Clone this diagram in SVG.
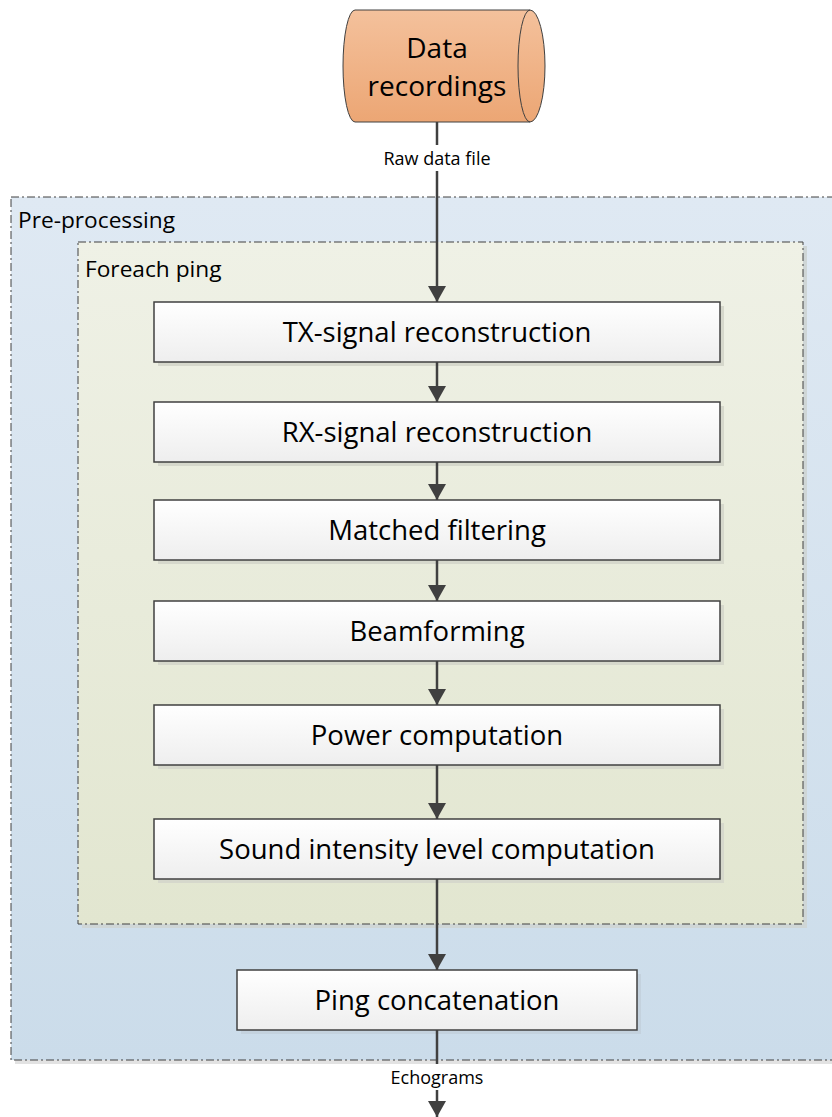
<svg xmlns="http://www.w3.org/2000/svg" width="832" height="1117" viewBox="0 0 832 1117">
<defs>
<linearGradient id="gOuter" x1="0" y1="0" x2="0" y2="1"><stop offset="0" stop-color="#dfe9f3"/><stop offset="1" stop-color="#cbdcea"/></linearGradient>
<linearGradient id="gInner" x1="0" y1="0" x2="0" y2="1"><stop offset="0" stop-color="#eff1e6"/><stop offset="1" stop-color="#e2e6d0"/></linearGradient>
<linearGradient id="gBox" x1="0" y1="0" x2="0" y2="1"><stop offset="0" stop-color="#ffffff"/><stop offset="1" stop-color="#eeeeee"/></linearGradient>
<linearGradient id="gCyl" x1="0" y1="0" x2="0" y2="1"><stop offset="0" stop-color="#f4c19c"/><stop offset="1" stop-color="#eca674"/></linearGradient>
<marker id="arr" markerWidth="16" markerHeight="18" refX="16" refY="9" orient="auto" markerUnits="userSpaceOnUse" viewBox="0 0 16 18">
<path d="M0,0 L16,9 L0,18 Z" fill="#404040"/>
</marker>
<style>
.cont{stroke:#404040;stroke-width:1;stroke-dasharray:8,3,2,3}
.box{fill:url(#gBox);stroke:#404040;stroke-width:1.5}
.shadow{fill:#d6d8cc}
.lbl{font-family:"Open Sans","Liberation Sans",sans-serif;fill:#000}
.btxt{font-size:27.5px;text-anchor:middle}
.edge{stroke:#404040;stroke-width:2.5;fill:none}
.elbl{font-size:18px;text-anchor:middle}
</style>
</defs>

<g id="preprocessing">
<rect x="15" y="201" width="830" height="863" fill="#e2e2e2"/>
<rect x="11" y="197" width="830" height="863" fill="url(#gOuter)" class="cont"/>
<text x="18" y="228" class="lbl" font-size="22.7">Pre-processing</text>
</g>
<g id="foreach">
<rect x="82" y="246" width="725" height="682" fill="#cfd6d6"/>
<rect x="78" y="242" width="725" height="682" fill="url(#gInner)" class="cont"/>
<text x="85" y="277" class="lbl" font-size="22.7">Foreach ping</text>
</g>

<g id="data-recordings">
<path d="M355,10 L530,10 A15,56 0 0 1 530,122 L355,122 A12,56 0 0 1 355,10 Z" fill="url(#gCyl)" stroke="#404040" stroke-width="1"/>
<path d="M530,10 A12,56 0 0 0 530,122" fill="none" stroke="#404040" stroke-width="1"/>
<text x="437" y="58" class="lbl" font-size="28" text-anchor="middle">Data</text>
<text x="437" y="96" class="lbl" font-size="28" text-anchor="middle">recordings</text>
</g>

<g id="tx">
<rect x="158" y="306" width="566" height="60" class="shadow"/>
<rect x="154" y="302" width="566" height="60" class="box"/>
<text x="437" y="342" class="lbl btxt">TX-signal reconstruction</text>
</g>
<g id="rx">
<rect x="158" y="406" width="566" height="60" class="shadow"/>
<rect x="154" y="402" width="566" height="60" class="box"/>
<text x="437" y="442" class="lbl btxt">RX-signal reconstruction</text>
</g>
<g id="matched">
<rect x="158" y="504" width="566" height="60" class="shadow"/>
<rect x="154" y="500" width="566" height="60" class="box"/>
<text x="437" y="540" class="lbl btxt">Matched filtering</text>
</g>
<g id="beamforming">
<rect x="158" y="605" width="566" height="60" class="shadow"/>
<rect x="154" y="601" width="566" height="60" class="box"/>
<text x="437" y="641" class="lbl btxt">Beamforming</text>
</g>
<g id="power">
<rect x="158" y="709" width="566" height="60" class="shadow"/>
<rect x="154" y="705" width="566" height="60" class="box"/>
<text x="437" y="745" class="lbl btxt">Power computation</text>
</g>
<g id="sil">
<rect x="158" y="823" width="566" height="60" class="shadow"/>
<rect x="154" y="819" width="566" height="60" class="box"/>
<text x="437" y="859" class="lbl btxt">Sound intensity level computation</text>
</g>
<g id="concat">
<rect x="241" y="974" width="400" height="60" fill="#c4d2de"/>
<rect x="237" y="970" width="400" height="60" class="box"/>
<text x="437" y="1010" class="lbl btxt">Ping concatenation</text>
</g>

<g id="connectors">
<line x1="437" y1="122" x2="437" y2="302" class="edge" marker-end="url(#arr)"/>
<rect x="374" y="145" width="126" height="26" fill="#ffffff"/>
<text x="437" y="165" class="lbl elbl">Raw data file</text>
<line x1="437" y1="362" x2="437" y2="402" class="edge" marker-end="url(#arr)"/>
<line x1="437" y1="462" x2="437" y2="500" class="edge" marker-end="url(#arr)"/>
<line x1="437" y1="560" x2="437" y2="601" class="edge" marker-end="url(#arr)"/>
<line x1="437" y1="661" x2="437" y2="705" class="edge" marker-end="url(#arr)"/>
<line x1="437" y1="765" x2="437" y2="819" class="edge" marker-end="url(#arr)"/>
<line x1="437" y1="879" x2="437" y2="970" class="edge" marker-end="url(#arr)"/>
<line x1="437" y1="1030" x2="437" y2="1117" class="edge" marker-end="url(#arr)"/>
<rect x="384" y="1064" width="106" height="26" fill="#ffffff"/>
<text x="437" y="1084" class="lbl elbl">Echograms</text>
</g>
</svg>
